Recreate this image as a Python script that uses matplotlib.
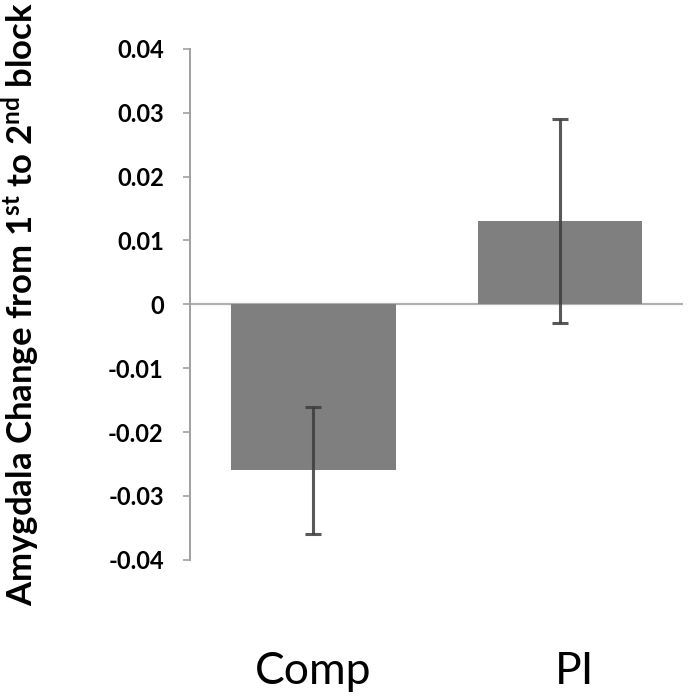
import matplotlib.pyplot as plt
import matplotlib.transforms as mtransforms
import numpy as np

plt.rcParams["font.family"] = ["Lato", "DejaVu Sans"]
plt.rcParams["mathtext.fontset"] = "custom"
plt.rcParams["mathtext.rm"] = "Lato:bold"
plt.rcParams["mathtext.default"] = "rm"

groups = ["Comp", "PI"]
means = [-0.026, 0.013]
errors = [0.010, 0.016]
yticks = [-0.04, -0.03, -0.02, -0.01, 0, 0.01, 0.02, 0.03, 0.04]
ytick_labels = ["-0.04", "-0.03", "-0.02", "-0.01", "0", "0.01", "0.02", "0.03", "0.04"]
ylabel = r"Amygdala Change from 1$^{st}$ to 2$^{nd}$ block"

fig = plt.figure(figsize=(6.94, 6.98), dpi=100)
ax = fig.add_axes([0.274, 0.198, 0.71, 0.732])

x = np.arange(len(groups))
ax.bar(x, means, width=0.667, color="#7f7f7f", zorder=2)
ax.errorbar(x, means, yerr=errors, fmt="none", ecolor="#3c3c3c", elinewidth=2.2,
            capsize=6, capthick=2.2, alpha=0.85, zorder=3)
ax.axhline(0, color="#b0b0b0", lw=1.6, zorder=1)

ax.set_xlim(-0.5, len(groups) - 0.5)
ax.set_ylim(-0.04, 0.04)
ax.set_yticks(yticks, ytick_labels, fontsize=17, fontweight="bold")
ax.set_xticks(x, groups, fontsize=32)
ax.tick_params(axis="x", length=0, pad=66)
ax.tick_params(axis="y", direction="out", length=5, width=1.2, color="#a0a0a0", pad=14)
# the PI label sits a bit right of its bar in the original
pi_label = ax.get_xticklabels()[1]
pi_label.set_transform(pi_label.get_transform() + mtransforms.ScaledTranslation(0.15, 0, fig.dpi_scale_trans))
for side in ["top", "right", "bottom"]:
    ax.spines[side].set_visible(False)
ax.spines["left"].set_color("#a0a0a0")
ax.spines["left"].set_linewidth(1.4)
ax.set_ylabel(ylabel, fontsize=25, fontweight="bold")
ax.yaxis.set_label_coords(-0.30, 0.5)

fig.savefig("out.png", dpi=100)
